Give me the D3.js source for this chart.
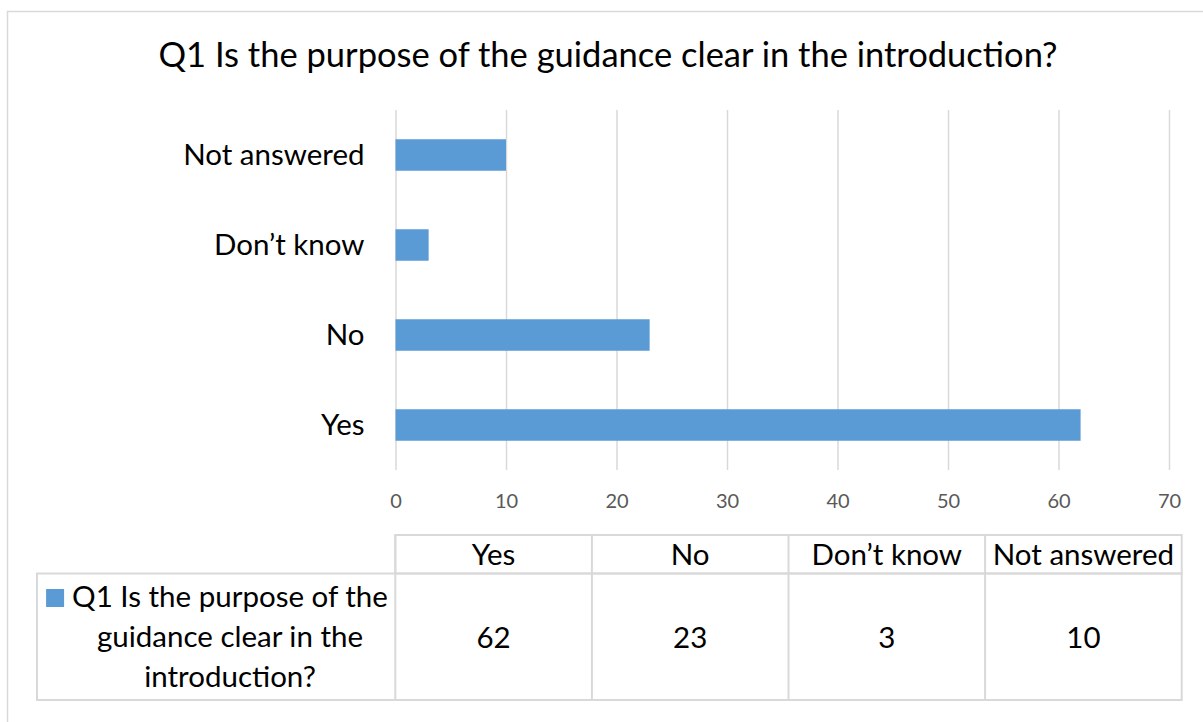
<!DOCTYPE html>
<html>
<head>
<meta charset="utf-8">
<script src="https://cdn.jsdelivr.net/npm/d3@7"></script>
<style>
  html, body { margin: 0; padding: 0; background: #fff; }
  svg { display: block; font-family: Lato, "Open Sans", sans-serif; }
</style>
</head>
<body>
<svg id="chart" width="1203" height="722"></svg>
<script>
// Survey responses, Q1
const title = "Q1 Is the purpose of the guidance clear in the introduction?";
const seriesName = ["Q1 Is the purpose of the", "guidance clear in the", "introduction?"];
const categories = ["Yes", "No", "Don\u2019t know", "Not answered"];
const values = [62, 23, 3, 10];
const xTicks = [0, 10, 20, 30, 40, 50, 60, 70];

const barColor = "#5B9BD5";
const lineColor = "#d9d9d9";
const labelSize = 29.5;
const svg = d3.select("#chart");

// outer chart frame
svg.append("rect")
  .attr("x", 7.5).attr("y", 11.5)
  .attr("width", 1230).attr("height", 760)
  .attr("fill", "#fff").attr("stroke", lineColor).attr("stroke-width", 1.5);

svg.append("text")
  .attr("x", 608).attr("y", 67)
  .attr("text-anchor", "middle")
  .attr("font-size", 34.5)
  .attr("fill", "#000")
  .text(title);

const plot = { left: 395.5, right: 1169, top: 110, bottom: 470 };

const x = d3.scaleLinear().domain([0, 70]).range([plot.left, plot.right]);
const y = d3.scaleBand()
  .domain(categories.slice().reverse())
  .range([plot.top, plot.bottom])
  .paddingInner(0.65).paddingOuter(0.325);

// vertical gridlines
const grid = svg.append("g")
  .attr("transform", `translate(0,${plot.bottom})`)
  .call(d3.axisBottom(x).tickValues(xTicks).tickSize(-(plot.bottom - plot.top)).tickFormat(""));
grid.select(".domain").remove();
grid.selectAll(".tick line").attr("stroke", lineColor).attr("stroke-width", 1.5);

// value axis labels
const xAxis = svg.append("g")
  .attr("transform", `translate(0,${plot.bottom})`)
  .call(d3.axisBottom(x).tickValues(xTicks).tickSize(0).tickPadding(24));
xAxis.select(".domain").remove();
xAxis.selectAll("text")
  .attr("font-family", "Lato, sans-serif")
  .attr("font-size", 20).attr("fill", "#595959");

// bars
svg.append("g").selectAll("rect")
  .data(categories.map((c, i) => ({ c, v: values[i] })))
  .join("rect")
  .attr("x", x(0))
  .attr("y", d => y(d.c))
  .attr("width", d => x(d.v) - x(0))
  .attr("height", y.bandwidth())
  .attr("fill", barColor);

// category axis
const yAxis = svg.append("g")
  .attr("transform", `translate(${plot.left},0)`)
  .call(d3.axisLeft(y).tickSize(0).tickPadding(31));
yAxis.select(".domain").remove();
yAxis.selectAll("text")
  .attr("font-family", "Lato, sans-serif")
  .attr("font-size", labelSize).attr("fill", "#000")
  .attr("dy", "0.35em");

// data table
const tbl = { left: 37, colLeft: 395.3, right: 1181.7, top: 535, mid: 573.5, bottom: 700 };
const col = d3.scaleBand().domain(categories).range([tbl.colLeft, tbl.right]);
const table = svg.append("g")
  .attr("fill", "none").attr("stroke", lineColor).attr("stroke-width", 2);

table.append("rect")
  .attr("x", tbl.colLeft).attr("y", tbl.top)
  .attr("width", tbl.right - tbl.colLeft).attr("height", tbl.mid - tbl.top);
table.append("rect")
  .attr("x", tbl.left).attr("y", tbl.mid)
  .attr("width", tbl.right - tbl.left).attr("height", tbl.bottom - tbl.mid);
table.selectAll("line.col")
  .data(categories)
  .join("line")
  .attr("class", "col")
  .attr("x1", d => col(d)).attr("x2", d => col(d))
  .attr("y1", tbl.top).attr("y2", tbl.bottom);

const cells = svg.append("g")
  .attr("font-size", labelSize).attr("fill", "#000").attr("text-anchor", "middle");
cells.selectAll("text.head")
  .data(categories)
  .join("text")
  .attr("class", "head")
  .attr("x", d => col(d) + col.bandwidth() / 2)
  .attr("y", 565)
  .text(d => d);
cells.selectAll("text.val")
  .data(values)
  .join("text")
  .attr("class", "val")
  .attr("x", (d, i) => col(categories[i]) + col.bandwidth() / 2)
  .attr("y", 648)
  .text(d => d);

// series key and name
const keyCenter = 230;
const lines = cells.selectAll("text.series")
  .data(seriesName)
  .join("text")
  .attr("class", "series")
  .attr("x", keyCenter)
  .attr("y", (d, i) => 607 + i * 40)
  .text(d => d);
const w0 = lines.node().getComputedTextLength();
svg.append("rect")
  .attr("x", keyCenter - w0 / 2 - 26)
  .attr("y", 589)
  .attr("width", 18).attr("height", 18)
  .attr("fill", barColor);
</script>
</body>
</html>
